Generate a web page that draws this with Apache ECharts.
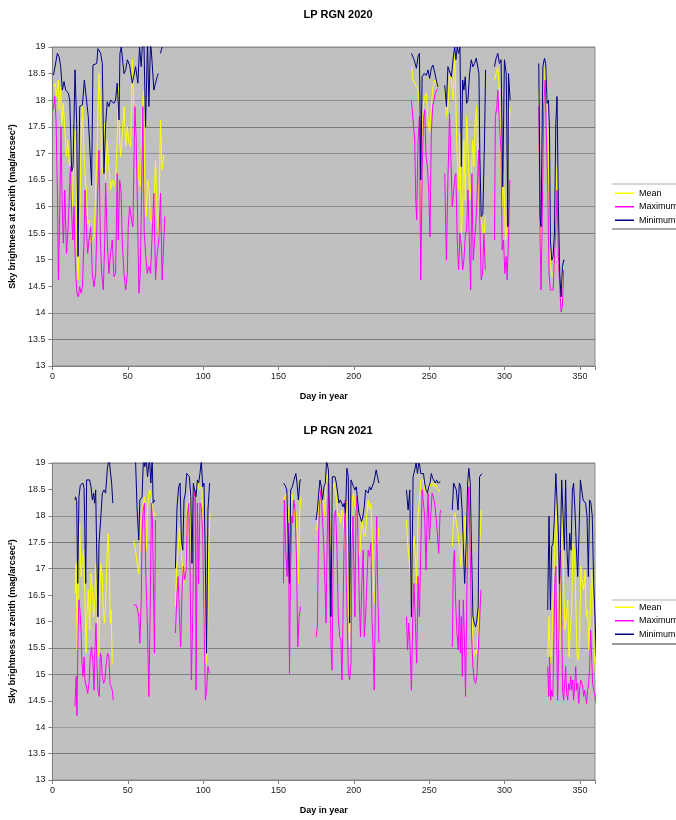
<!DOCTYPE html>
<html lang="en">
<head>
<meta charset="UTF-8">
<title>LP RGN</title>
<script src="https://cdn.jsdelivr.net/npm/echarts@6/dist/echarts.min.js"></script>
<style>
  html, body { margin: 0; padding: 0; background: #fff; }
  #chart { width: 676px; height: 820px; }
</style>
</head>
<body>
<div id="chart"></div>
<script>
// series names and panel titles
var seriesNames = ['Mean', 'Maximum', 'Minimum'];
var panelTitles = ['LP RGN 2020', 'LP RGN 2021'];

// [day, mag/arcsec^2], null = gap in the record
var mean2020 = [
  [0.7,18.25],[1.8,18.32],[2.6,18.07],[3.8,18.38],[4.4,17.82],[5.5,18.25],[6.2,17.5],[7.1,17.94],[8.4,17.38],[9.3,16.94],
  [10.2,17.25],[11.0,16.87],[12.1,16.5],[13.2,16.0],[14.3,17.13],[15.0,17.44],[15.7,16.62],[16.3,15.24],[17.0,14.62],[18.1,15.62],
  [19.0,17.25],[19.9,17.88],[21.0,16.94],[21.6,16.62],[22.5,16.31],[23.4,15.68],[24.3,15.75],[25.4,15.31],[26.5,15.37],[27.6,15.43],
  [28.7,16.31],[29.8,17.25],[30.9,18.5],[31.8,18.0],[32.7,16.75],[33.6,16.62],[34.4,17.56],[35.3,16.5],[36.4,17.25],[37.5,16.75],
  [38.6,16.31],[39.7,16.5],[40.8,16.37],[41.9,16.5],[43.0,17.25],[43.7,18.25],[44.6,17.25],[45.3,16.94],[46.4,17.38],[47.5,17.88],
  [48.6,17.13],[49.7,17.5],[50.8,17.19],[51.9,17.13],[53.0,18.76],[54.1,17.82],[55.2,17.25],[56.3,17.06],[57.4,16.5],[58.5,16.37],
  [59.6,17.88],[60.5,18.19],[61.4,16.0],[62.3,15.81],[63.1,16.5],[64.0,16.37],[65.1,15.75],[66.2,15.68],[67.3,16.0],[68.4,16.87],
  [69.5,15.87],[70.6,15.43],[71.7,17.63],[72.8,16.69],[74.0,16.97],
  null,
  [238.2,18.63],[239.3,18.38],[240.4,18.38],[241.5,18.25],[242.6,18.19],[243.5,17.88],[244.4,15.62],[245.3,17.31],[246.0,17.88],[247.0,18.07],
  [248.1,18.13],[249.2,17.63],[250.3,17.38],[251.4,17.88],[252.5,18.25],[253.6,18.38],[254.7,18.32],[255.8,18.25],
  null,
  [260.3,18.19],[261.4,17.69],[262.4,17.88],[263.5,18.5],[264.7,18.38],[265.8,18.0],[266.9,18.88],[267.5,18.19],[268.2,17.25],[269.1,16.62],
  [269.7,16.31],[270.4,17.38],[271.3,15.37],[272.2,16.0],[273.0,17.25],[273.9,16.12],[274.8,17.69],[275.7,17.13],[276.8,16.12],[277.9,16.5],
  [278.8,17.25],[279.7,16.75],[280.5,17.56],[281.4,17.88],[282.3,16.62],[283.4,15.87],[284.5,15.75],[285.4,15.62],[286.3,15.37],[287.2,15.81],
  null,
  [293.3,18.38],[294.4,18.5],[295.5,18.63],[296.6,18.19],[297.7,16.5],[298.4,16.0],[299.0,16.62],[299.9,16.12],[300.6,15.37],[301.5,15.56],
  [302.2,16.19],[303.0,17.56],[303.7,17.88],
  null,
  [322.7,18.19],[323.6,15.56],[324.2,15.12],[325.1,16.62],[326.0,17.88],[326.9,18.63],[327.8,18.19],[328.7,17.56],[329.5,16.0],[330.4,14.93],
  [331.3,14.68],[332.2,14.74],[333.1,14.87],[334.0,15.68],[334.8,16.75],[335.7,15.37],[336.6,14.62],[337.5,14.18],[338.4,14.62],[339.2,14.87]
];

var max2020 = [
  [0.7,17.82],[1.5,18.07],[2.4,17.63],[3.3,16.31],[4.0,14.62],[4.9,16.0],[5.7,17.5],[6.6,15.87],[7.3,15.31],[8.2,16.31],
  [9.3,15.12],[10.2,15.5],[11.0,16.0],[11.9,16.75],[12.8,15.87],[13.5,15.37],[14.3,16.0],[15.0,15.12],[15.7,14.62],[16.3,14.37],
  [17.2,14.3],[18.1,14.49],[19.0,14.37],[19.9,14.49],[21.0,15.37],[21.6,16.31],[22.5,15.62],[23.4,15.12],[24.3,15.37],[25.4,15.62],
  [26.5,14.74],[27.6,14.49],[28.7,14.74],[29.8,16.0],[30.9,17.06],[31.8,15.37],[32.7,14.74],[33.8,14.43],[34.7,15.37],[35.3,16.44],
  [36.4,15.37],[37.5,14.74],[38.6,15.12],[39.7,15.37],[40.8,14.68],[41.9,14.74],[43.0,16.62],[43.7,15.37],[44.6,16.5],[45.5,16.31],
  [46.4,15.31],[47.5,14.74],[48.6,14.43],[49.7,14.74],[50.3,15.62],[51.2,16.0],[52.5,15.75],[53.4,15.62],[54.7,17.88],[55.6,17.25],
  [56.5,15.87],[57.4,14.37],[58.3,14.74],[59.2,16.31],[60.0,17.88],[60.9,15.5],[61.8,15.12],[62.9,14.74],[64.0,14.87],[65.1,14.74],
  [66.2,14.74],[67.3,16.25],[68.4,14.62],[69.5,15.12],[70.6,15.37],[71.7,16.25],[72.8,14.62],[74.6,15.81],
  null,
  [238.2,18.0],[239.3,17.97],[240.4,17.25],[241.1,16.12],[241.7,15.75],[242.6,17.25],[243.5,17.69],[244.4,14.62],[245.3,16.62],[246.2,17.63],
  [247.0,17.82],[247.9,16.94],[248.8,16.75],[249.7,16.31],[250.5,15.43],[251.4,17.38],[252.3,17.88],[253.2,18.0],[254.1,18.13],[254.9,18.19],[255.8,18.22],
  null,
  [260.3,16.62],[261.4,14.99],[262.4,16.5],[263.5,17.75],[264.7,17.75],[265.3,16.0],[266.2,16.0],[267.1,16.56],[267.7,16.62],[268.6,15.37],
  [269.5,14.81],[270.4,15.5],[271.3,15.24],[272.2,14.81],[273.0,14.99],[273.9,15.43],[274.8,15.56],[275.7,16.31],[276.6,15.37],[277.5,14.43],
  [278.3,16.62],[279.2,14.99],[280.1,15.37],[281.0,15.68],[281.9,16.31],[282.7,17.06],[283.6,15.68],[284.5,14.62],[285.4,14.74],[286.3,15.5],[287.2,14.81],
  null,
  [293.3,15.37],[293.9,17.69],[294.9,17.88],[295.5,18.19],[296.6,17.56],[297.7,17.0],[298.4,15.18],[299.3,15.37],[300.2,14.74],[301.1,15.06],
  [301.7,14.62],[302.6,15.37],[303.5,16.5],
  null,
  [322.7,17.88],[323.6,15.37],[324.2,14.43],[325.1,16.0],[326.0,17.88],[326.9,18.38],[327.8,17.25],[328.7,16.31],[329.5,14.74],[330.4,14.43],
  [331.3,14.43],[332.2,14.43],[333.1,14.43],[334.0,15.62],[334.8,16.31],[335.7,15.06],[336.6,14.49],[337.5,14.02],[338.4,14.12],[339.2,14.81]
];

var min2020 = [
  [0.7,18.47],[1.8,18.5],[3.3,18.88],[4.4,18.82],[5.5,18.63],[6.6,18.19],[7.7,18.35],[8.8,18.19],[10.6,18.13],[11.5,18.0],
  [12.8,16.66],[13.7,16.75],[15.0,18.57],[16.1,17.56],[17.0,15.06],[18.1,17.88],[19.9,17.91],[21.2,18.38],[22.5,18.35],[23.8,17.69],
  [26.0,16.4],[26.9,18.66],[29.4,18.69],[30.2,18.97],[32.0,18.88],[33.1,18.69],[34.2,16.62],[35.3,17.56],[36.4,17.97],[37.5,17.88],
  [38.6,18.0],[39.7,17.97],[40.8,17.94],[41.9,18.0],[43.0,18.32],[44.2,17.63],[44.8,18.88],[45.7,19.0],[47.5,18.5],[48.6,18.57],
  [49.7,18.76],[51.2,18.66],[53.0,18.32],[54.1,18.32],[55.2,18.63],[56.7,18.32],[57.8,19.0],[58.9,18.63],[59.6,19.0],[60.7,19.13],
  [61.8,17.5],[63.1,19.13],[64.0,17.88],[65.1,19.13],[66.2,18.69],[67.3,18.19],[68.4,18.32],[69.5,18.44],[70.2,18.5],
  null,
  [71.7,18.88],[72.8,19.0],
  null,
  [238.2,18.88],[240.0,18.76],[241.5,18.6],[242.6,18.82],[243.5,18.88],[244.4,16.5],[245.3,18.44],[246.6,18.5],[248.1,18.47],[249.2,18.57],
  [250.3,18.41],[251.4,18.6],[252.5,18.66],[253.6,18.53],[254.7,18.38],[255.8,18.25],
  null,
  [260.3,18.28],[261.4,17.88],[262.4,18.63],[263.5,18.66],[264.7,18.44],[265.8,18.76],[266.9,19.0],[267.7,18.76],[268.6,19.0],[269.5,18.88],
  [270.4,19.0],[271.3,16.75],[272.2,18.38],[273.0,18.19],[273.9,18.44],[274.8,17.94],[275.7,18.0],[276.8,18.5],[277.9,18.76],[279.0,18.63],
  [280.1,18.69],[281.2,18.79],[282.3,18.76],[283.0,18.5],[283.6,16.94],[284.5,15.81],[285.6,15.87],[286.7,17.25],[287.4,18.57],
  null,
  [293.3,18.63],[294.4,18.79],[295.5,18.88],[296.6,18.69],[297.7,18.76],[298.8,16.37],[299.9,18.76],[301.1,18.5],[302.2,15.62],[302.6,18.5],[303.7,18.0],
  null,
  [322.7,18.69],[323.6,15.81],[324.2,15.62],[325.4,18.63],[326.5,18.79],[327.3,18.69],[328.2,17.94],[329.1,18.0],[329.8,17.44],[330.4,15.37],
  [331.3,14.99],[332.2,15.06],[333.1,15.5],[334.0,17.56],[334.8,18.07],[335.7,16.0],[336.6,14.74],[337.5,14.3],[338.4,14.87],[339.2,14.99],[339.9,14.99]
];

var mean2021 = [
  [15.0,16.53],[15.7,17.1],[16.5,15.46],[17.2,16.85],[18.1,17.86],[19.0,16.85],[19.9,17.16],[20.7,17.35],[21.6,16.41],[22.3,15.4],
  [22.9,16.09],[23.8,16.6],[24.7,15.84],[25.6,16.91],[26.5,16.6],[27.3,16.09],[28.2,16.47],[28.9,17.1],[29.6,16.34],[30.2,15.46],
  [30.9,15.33],[31.5,16.6],[32.2,17.1],[33.1,16.85],[33.7,16.22],[34.6,15.97],[35.3,16.34],[36.2,17.23],[37.1,17.67],[37.7,17.04],
  [38.4,15.97],[39.0,16.22],[39.7,15.21],
  null,
  [54.0,17.54],[55.1,17.35],[56.2,17.1],[57.3,16.91],[58.0,17.35],[58.9,17.99],[59.5,18.05],[60.4,18.24],[61.1,18.36],[61.8,17.99],
  [62.4,17.35],[63.1,18.11],[64.0,18.43],[64.8,18.49],[65.7,18.3],[66.6,18.11],[67.5,17.99],[68.4,18.05],
  null,
  [81.6,16.28],[82.5,17.04],[83.4,17.35],[84.3,17.79],[85.1,17.48],[86.0,17.16],[86.9,16.66],[87.8,16.85],[88.7,17.35],[89.5,18.24],
  [90.4,17.99],[91.3,18.49],[92.2,17.16],[93.1,17.67],[94.0,18.49],[94.8,18.55],[95.7,18.36],[96.6,18.68],[97.5,18.49],[98.4,18.55],
  [99.3,18.43],[100.1,17.35],[101.0,15.59],[101.9,15.21],[102.8,15.4],[103.7,17.35],[104.5,18.05],
  null,
  [153.3,18.36],[153.9,18.3],[154.8,18.43],[155.7,18.3],[156.6,18.05],[157.3,17.67],[158.1,17.99],[158.8,18.43],[159.7,18.3],[160.6,17.99],
  [161.5,18.11],[162.3,17.67],[163.2,16.72],[164.1,18.11],[165.0,18.36],
  null,
  [175.3,17.73],[176.2,17.99],[177.1,18.43],[178.0,18.24],[178.9,18.49],[179.7,18.36],[180.6,17.99],[181.5,18.68],[182.4,18.8],[183.3,18.62],
  [184.2,17.35],[185.1,17.99],[186.0,18.49],[186.8,18.62],[187.7,18.49],[188.6,18.3],[189.5,17.99],[190.4,18.05],[191.2,17.86],[192.1,18.11],
  [193.0,17.99],[193.6,17.35],[194.5,17.86],[195.4,18.3],[196.3,16.72],[197.2,15.52],[198.1,17.35],[198.9,18.3],[199.8,18.43],[200.7,18.17],
  [201.6,18.11],[202.5,17.61],[203.4,17.23],[204.2,17.35],[205.1,17.99],[206.0,17.99],[206.9,17.61],[207.8,17.67],[208.6,18.05],[209.5,18.3],
  [210.4,18.11],[211.3,18.24],[212.2,17.61],[213.1,16.6],[214.0,16.34],[214.8,17.73],[215.7,17.48],[216.6,17.79],
  null,
  [234.9,17.92],[236.0,17.35],[237.1,17.04],[238.2,16.41],[239.1,17.35],[239.9,17.61],[240.8,17.23],[241.7,16.72],[242.6,17.99],[243.5,18.3],
  [244.4,18.68],[245.3,18.71],[246.2,18.68],[247.0,18.49],[247.9,18.43],[248.8,18.52],[249.7,18.49],[250.6,18.55],[251.4,18.65],[252.3,18.62],
  [253.2,18.55],[254.1,18.62],[254.9,18.55],[255.8,18.52],[256.7,18.46],[257.4,18.49],
  null,
  [265.3,17.42],[266.2,17.99],[267.1,18.05],[268.0,17.86],[269.1,17.67],[270.2,17.35],[271.1,17.04],[272.0,17.67],[272.8,17.35],[273.7,17.99],
  [274.6,17.04],[275.5,18.62],[276.3,18.74],[277.2,18.3],[278.1,16.72],[279.0,15.52],[279.9,15.33],[280.8,15.46],[281.6,15.4],[282.5,15.78],
  [283.4,17.35],[284.5,18.11],
  null,
  [328.6,15.33],[329.5,16.09],[330.4,15.21],[331.3,15.46],[332.2,16.41],[333.1,17.35],[334.0,18.49],[334.8,17.35],[335.7,15.9],[336.6,15.46],
  [337.5,17.04],[338.3,18.3],[339.2,16.72],[340.1,15.84],[341.0,16.09],[341.9,16.41],[342.8,15.33],[343.6,15.84],[344.5,16.22],[345.4,17.48],
  [346.3,17.35],[347.2,16.41],[348.1,15.33],[349.0,15.27],[349.8,15.71],[350.7,17.04],[351.6,16.72],[352.5,16.6],[353.4,16.97],[354.2,16.09],
  [355.1,16.22],[356.0,15.46],[356.9,16.22],[357.8,16.97],[358.6,16.41],[359.5,15.46],[360.6,14.89]
];

var max2021 = [
  [15.0,14.39],[15.7,14.96],[16.3,14.22],[17.0,15.78],[17.6,16.41],[18.3,16.22],[19.0,15.84],[19.6,15.21],[20.3,14.96],[21.0,15.33],
  [21.6,14.89],[22.5,14.77],[23.4,14.64],[24.3,14.83],[25.1,15.33],[26.0,15.52],[26.9,15.21],[27.6,14.7],[28.2,15.46],[28.9,15.97],
  [29.6,15.15],[30.2,14.7],[31.1,14.58],[31.8,15.4],[32.4,15.33],[33.1,14.96],[34.0,14.83],[34.8,14.89],[35.7,15.21],[36.6,15.4],
  [37.5,15.33],[38.2,14.83],[39.0,14.83],[39.7,14.7],[40.4,14.51],
  null,
  [54.0,16.31],[55.6,16.31],[56.5,16.22],[57.3,16.09],[58.0,15.59],[58.9,16.34],[59.5,17.67],[60.2,18.11],[61.1,18.24],[62.0,16.85],
  [62.9,16.09],[64.0,14.58],[64.8,16.09],[65.7,18.24],[66.4,17.86],[67.0,16.72],[67.7,15.4],[68.4,17.92],
  null,
  [81.6,15.78],[82.5,16.41],[83.4,16.85],[84.3,16.09],[85.1,15.52],[86.0,16.6],[86.9,17.04],[87.8,16.79],[88.7,16.97],[89.5,17.99],
  [90.4,18.24],[91.3,17.04],[92.2,14.89],[93.1,16.09],[94.0,18.36],[94.8,18.49],[95.3,14.7],[96.2,18.24],[97.0,16.72],[97.9,18.24],
  [98.8,18.17],[99.7,17.67],[100.6,16.09],[101.5,14.51],[102.3,14.7],[103.2,15.15],[104.1,15.02],
  null,
  [153.3,16.72],[153.9,18.3],[154.8,17.35],[155.7,16.85],[156.6,17.86],[157.3,15.02],[157.9,16.72],[158.8,17.99],[159.4,17.86],[160.1,18.3],
  [161.0,18.11],[161.9,17.23],[162.8,15.52],[163.7,16.09],[164.6,16.28],
  null,
  [174.9,15.71],[175.8,15.9],[176.4,17.35],[177.3,18.24],[178.2,18.49],[179.1,17.99],[180.0,17.48],[180.8,16.72],[181.5,15.97],[182.4,17.67],
  [183.1,18.62],[183.9,16.72],[184.8,15.59],[185.5,15.08],[186.2,17.04],[187.0,17.99],[187.9,18.11],[188.8,17.35],[189.7,16.09],[190.6,15.71],
  [191.4,15.65],[192.1,14.89],[192.8,16.09],[193.6,17.67],[194.3,18.3],[195.0,16.72],[195.6,16.09],[196.3,15.08],[197.2,14.89],[198.1,15.21],
  [198.7,17.35],[199.4,17.99],[200.0,17.04],[200.7,16.09],[201.4,17.99],[202.0,18.36],[202.9,17.35],[203.6,16.41],[204.4,15.71],[205.3,16.72],
  [206.2,17.35],[206.9,15.71],[207.8,16.09],[208.6,16.72],[209.5,17.35],[210.4,17.23],[211.3,17.48],[212.0,16.09],[212.8,15.46],[213.5,14.7],
  [214.4,16.6],[215.1,17.99],[215.7,16.85],[216.6,15.59],
  null,
  [234.9,16.09],[235.6,15.46],[236.4,15.97],[237.3,15.52],[238.2,14.7],[239.1,16.09],[239.9,16.72],[240.8,15.97],[241.7,15.21],[242.6,16.85],
  [243.5,16.09],[244.4,17.35],[245.3,18.49],[246.2,18.49],[247.0,17.99],[247.9,16.97],[248.6,17.99],[249.2,18.43],[250.1,17.54],[251.0,17.99],
  [251.9,18.43],[252.7,18.36],[253.6,18.24],[254.5,17.99],[255.4,17.67],[256.3,17.29],[257.2,18.05],[257.6,18.11],
  null,
  [265.3,15.52],[266.0,17.04],[266.7,17.35],[267.5,16.41],[268.4,15.78],[269.3,15.46],[270.0,16.41],[270.7,15.4],[271.3,16.09],[272.0,14.96],
  [272.6,16.41],[273.3,15.78],[274.1,14.58],[274.8,16.09],[275.5,17.67],[276.3,18.55],[277.2,17.35],[278.1,15.78],[279.0,15.15],[279.9,14.89],
  [280.8,14.83],[281.6,14.96],[282.5,15.46],[283.4,15.97],[284.3,16.6],
  null,
  [328.6,15.15],[329.3,14.58],[329.9,15.33],[330.6,14.51],[331.3,14.7],[332.0,14.58],[332.6,15.46],[333.3,16.72],[334.0,17.04],[334.6,15.59],
  [335.2,14.51],[335.9,15.46],[336.6,16.97],[337.2,17.35],[337.9,16.09],[338.5,14.7],[339.2,14.51],[339.9,14.83],[340.5,15.15],[341.2,14.64],
  [341.9,14.51],[342.5,14.83],[343.2,14.7],[343.9,14.96],[344.5,14.7],[345.2,14.89],[345.8,14.51],[346.5,14.77],[347.2,15.15],[347.8,14.7],
  [348.5,14.83],[349.2,14.45],[349.8,14.7],[350.5,14.89],[351.2,14.83],[351.8,14.77],[352.5,14.58],[353.1,14.7],[353.8,14.58],[354.4,14.45],
  [355.1,14.7],[355.8,14.83],[356.4,15.08],[357.1,15.84],[357.8,15.33],[358.4,14.83],[359.1,14.7],[359.8,14.64],[360.8,14.45]
];

var min2021 = [
  [15.0,18.3],[15.4,18.36],[16.1,18.27],[16.8,16.72],[17.6,18.36],[18.5,18.58],[19.4,18.55],[20.3,18.62],[21.0,18.52],[22.1,16.72],
  [22.7,18.68],[23.6,18.71],[24.7,18.68],[25.6,18.55],[26.5,18.3],[27.3,18.43],[28.0,18.24],[28.7,18.49],[29.3,17.48],[30.2,16.09],
  [30.9,17.48],[32.0,17.92],[33.1,18.43],[34.2,18.49],[35.3,18.43],[36.4,18.87],[37.5,19.1],[38.4,19.1],[39.3,18.62],[40.1,18.24],
  null,
  [55.1,19.1],[56.2,18.11],[57.3,17.54],[58.0,18.3],[58.9,18.3],[59.5,18.36],[60.4,19.1],[61.3,18.93],[62.2,19.1],[63.1,18.74],
  [64.4,19.1],[65.3,18.62],[66.2,19.1],[66.8,18.24],[67.9,18.3],
  null,
  [81.6,17.01],[82.7,18.17],[83.8,18.55],[84.7,18.62],[85.6,17.54],[86.5,17.35],[87.3,18.3],[88.2,18.43],[89.1,18.8],[90.0,18.77],
  [90.9,18.74],[91.8,18.36],[92.6,17.1],[93.5,18.62],[94.4,18.62],[95.3,18.36],[96.2,18.68],[97.0,18.62],[97.9,18.8],[98.8,19.05],
  [99.7,18.55],[100.6,18.62],[101.5,17.04],[102.3,15.4],[103.2,18.11],[104.3,18.62],
  null,
  [153.3,18.62],[154.4,18.58],[155.5,18.49],[156.6,18.49],[157.3,16.72],[158.1,18.49],[159.2,18.55],[160.3,18.68],[161.5,18.8],[162.3,18.62],
  [163.2,18.3],[164.3,18.68],[165.0,18.68],
  null,
  [174.9,17.92],[175.8,18.11],[176.7,18.43],[177.5,18.68],[178.4,18.55],[179.3,18.3],[180.2,18.55],[181.1,18.62],[181.9,19.05],[183.1,18.87],
  [183.9,17.99],[184.8,16.09],[185.7,18.74],[186.6,18.77],[187.5,18.74],[188.4,18.62],[189.3,18.62],[190.1,18.24],[191.0,18.3],[191.9,18.24],
  [192.8,18.17],[193.6,18.24],[194.5,18.05],[195.4,18.9],[196.3,18.74],[197.2,15.97],[198.1,18.68],[198.9,18.62],[199.8,18.55],[200.7,18.49],
  [201.6,18.55],[202.5,18.3],[203.4,18.05],[204.2,17.99],[205.1,17.89],[206.0,17.99],[206.9,18.17],[207.8,18.49],[208.6,18.49],[209.5,18.43],
  [210.4,18.55],[211.3,18.49],[212.2,18.52],[213.1,18.62],[214.0,18.74],[214.8,18.87],[215.7,18.74],[216.6,18.62],
  null,
  [234.9,18.49],[236.0,18.11],[237.1,18.49],[238.2,16.09],[239.3,18.74],[240.4,18.87],[241.3,19.0],[242.2,18.8],[243.1,19.0],[243.7,18.96],
  [244.4,18.8],[245.3,18.8],[246.2,18.8],[247.0,18.62],[247.9,18.49],[248.8,18.43],[249.7,18.55],[250.6,18.62],[251.4,18.8],[252.3,18.71],
  [253.2,18.68],[254.1,18.62],[254.9,18.68],[255.8,18.62],[256.7,18.62],[257.4,18.65],
  null,
  [265.3,18.11],[266.2,18.62],[267.1,18.62],[268.0,18.49],[269.1,18.11],[270.0,18.62],[270.9,18.55],[271.8,18.11],[272.6,17.48],[273.5,16.72],
  [274.6,17.54],[275.5,18.62],[276.3,18.9],[277.2,18.62],[278.1,17.35],[279.0,16.09],[279.9,15.97],[280.8,15.9],[281.6,16.03],[282.5,16.28],
  [283.4,18.74],[284.3,18.77],[285.0,18.8],
  null,
  [328.6,16.22],[329.5,17.99],[330.4,16.22],[331.3,17.42],[332.2,17.48],[333.1,17.99],[334.0,18.8],[334.8,18.8],[335.7,17.67],[336.4,16.72],
  [337.0,17.35],[337.9,18.68],[338.8,17.99],[339.7,17.35],[340.5,18.68],[341.4,17.35],[342.3,16.85],[343.2,17.67],[344.1,17.35],[345.0,18.49],
  [345.8,18.62],[346.7,18.11],[347.6,17.42],[348.5,16.85],[349.4,17.67],[350.3,18.68],[351.2,18.49],[352.1,18.3],[352.9,18.3],[353.8,18.24],
  [354.7,17.99],[355.6,16.85],[356.4,18.3],[357.3,18.24],[358.2,17.99],[359.1,16.72],[360.0,16.09],[360.8,15.33]
];

var panels = [
  { mean: mean2020, max: max2020, min: min2020 },
  { mean: mean2021, max: max2021, min: min2021 }
];

function toData(arr) {
  return arr.map(function (p) { return p === null ? ['-', '-'] : p; });
}

var font = '"Liberation Sans", Arial, sans-serif';
var colors = { Mean: '#ffff00', Maximum: '#ff00ff', Minimum: '#000080' };

// gridline shades as they show up on the two panels
var gridShades = [
  ['#808080', '#777777', '#8e8e8e', 'rgba(0,0,0,0)', 'rgba(0,0,0,0)', '#777777', '#8e8e8e', 'rgba(0,0,0,0)', '#8e8e8e', '#777777', '#8e8e8e', 'rgba(0,0,0,0)', '#8e8e8e'],
  ['#808080', '#777777', '#9a9a9a', 'rgba(0,0,0,0)', '#808080', '#808080', 'rgba(0,0,0,0)', 'rgba(0,0,0,0)', '#808080', '#777777', '#8e8e8e', 'rgba(0,0,0,0)', '#8e8e8e']
];

var gridTops = [47, 463];
var gridHeights = [319, 317];
var titleTops = [4, 420];
var legendTops = [188, 602];

var option = {
  animation: false,
  backgroundColor: '#ffffff',
  textStyle: { fontFamily: font },
  title: panelTitles.map(function (t, i) {
    return {
      text: t, left: 'center', top: titleTops[i],
      textStyle: { fontSize: 11, fontWeight: 'bold', color: '#000', fontFamily: font }
    };
  }),
  grid: gridTops.map(function (top, i) {
    return {
      left: 50, top: top, width: 545, height: gridHeights[i],
      show: true, backgroundColor: '#c0c0c0', borderColor: '#8a8a8a', borderWidth: 1
    };
  }),
  legend: legendTops.map(function (top) {
    return {
      data: seriesNames, orient: 'vertical', left: 615, top: top, padding: 0,
      icon: 'rect', itemWidth: 19, itemHeight: 1.5, itemGap: 3, selectedMode: false,
      textStyle: { fontSize: 9, lineHeight: 10.5, color: '#000', fontFamily: font }
    };
  }),
  xAxis: [0, 1].map(function (i) {
    return {
      type: 'value', gridIndex: i, min: 0, max: 360, interval: 50,
      name: 'Day in year', nameLocation: 'middle', nameGap: 26,
      nameTextStyle: { fontSize: 9, fontWeight: 'bold', color: '#000', fontFamily: font },
      axisLine: { lineStyle: { color: '#808080' } },
      axisTick: { show: true, length: 4, lineStyle: { color: '#808080' } },
      axisLabel: { fontSize: 9, color: '#222', margin: 6, fontFamily: font,
        formatter: function (v) { return v > 350 ? '' : v; } },
      splitLine: { show: false }
    };
  }),
  yAxis: [0, 1].map(function (i) {
    return {
      type: 'value', gridIndex: i, min: 13, max: 19, interval: 0.5,
      name: 'Sky brightness at zenith (mag/arcsec\u00b2)', nameLocation: 'middle', nameGap: 28,
      nameTextStyle: { fontSize: 9, fontWeight: 'bold', color: '#000', fontFamily: font },
      axisLine: { show: true, lineStyle: { color: '#808080' } },
      axisTick: { show: true, length: 4, lineStyle: { color: '#808080' } },
      axisLabel: { fontSize: 9, color: '#222', margin: 7, fontFamily: font },
      splitLine: { show: true, lineStyle: { color: gridShades[i], width: 1 } }
    };
  }),
  graphic: [
    { type: 'line', shape: { x1: 612, y1: 184, x2: 676, y2: 184 }, style: { stroke: '#b0b0b0', lineWidth: 1 } },
    { type: 'line', shape: { x1: 612, y1: 229, x2: 676, y2: 229 }, style: { stroke: '#555', lineWidth: 1 } },
    { type: 'line', shape: { x1: 612, y1: 600, x2: 676, y2: 600 }, style: { stroke: '#b0b0b0', lineWidth: 1 } },
    { type: 'line', shape: { x1: 612, y1: 644, x2: 676, y2: 644 }, style: { stroke: '#333', lineWidth: 1 } }
  ],
  series: []
};

panels.forEach(function (p, i) {
  [['Mean', p.mean], ['Maximum', p.max], ['Minimum', p.min]].forEach(function (s) {
    option.series.push({
      name: s[0], type: 'line', xAxisIndex: i, yAxisIndex: i,
      data: toData(s[1]), symbol: 'none', showSymbol: false, clip: true,
      connectNulls: false,
      lineStyle: { width: 1, color: colors[s[0]] },
      itemStyle: { color: colors[s[0]] }
    });
  });
});

var chart = echarts.init(document.getElementById('chart'), null, { renderer: 'canvas' });
chart.setOption(option);
</script>
</body>
</html>
